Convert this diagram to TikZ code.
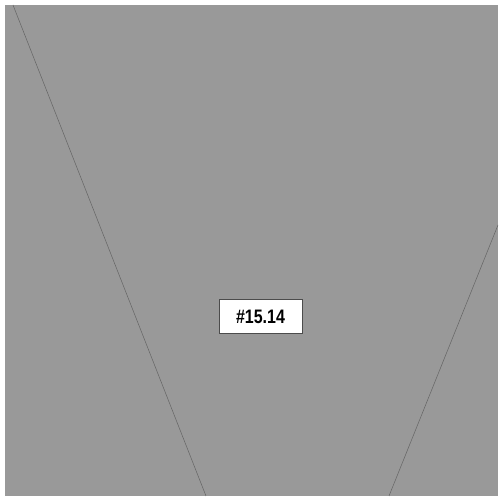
\documentclass[tikz,border=0pt]{standalone}
\usepackage{fontspec}
\setmainfont{Liberation Sans}
\definecolor{bg}{RGB}{153,153,153}
\definecolor{ln}{RGB}{100,100,100}
\tikzset{
  edge/.style={draw=ln, line width=0.5pt},
  tag/.style={draw=black!70, fill=white, line width=0.6pt, minimum width=83pt, minimum height=34pt, inner sep=0pt, font=\fontsize{19.5}{19.5}\selectfont\bfseries}
}
\begin{document}
\begin{tikzpicture}[x=1pt,y=1pt]
\useasboundingbox (0,0) rectangle (504,503);
\fill[bg] (5,7) rectangle (498,498);
\coordinate (l1) at (13,498);
\coordinate (l2) at (206,7);
\coordinate (r1) at (498,278);
\coordinate (r2) at (389,7);
\draw[edge] (l1) -- (l2);
\draw[edge] (r1) -- (r2);
\node[tag] (label) at (260.5,186.5) {\scalebox{0.82}[1]{\#15.14}};
\end{tikzpicture}
\end{document}
